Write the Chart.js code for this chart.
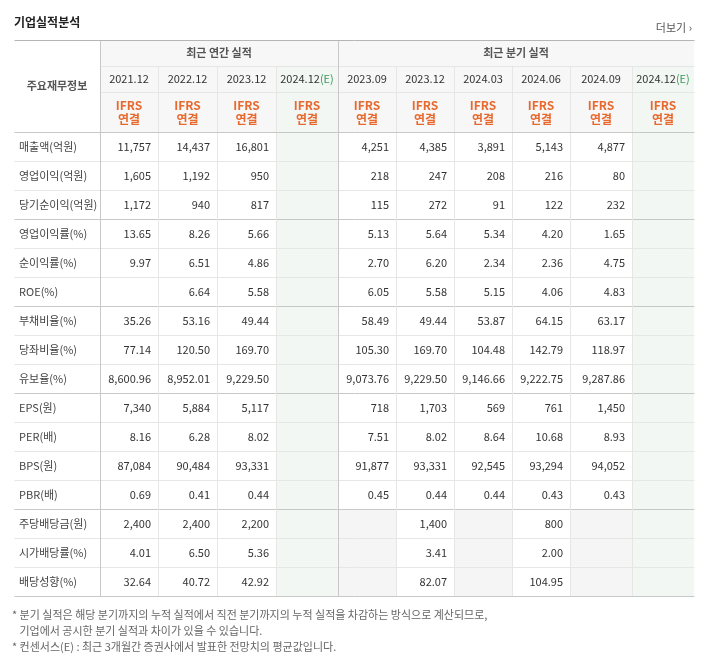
<!DOCTYPE html>
<html><head><meta charset="utf-8">
<script src="https://cdn.jsdelivr.net/npm/chart.js@4"></script>
<style>body{margin:0;background:#fff}#c{display:block}</style>
</head><body>
<canvas id="c" width="706" height="660"></canvas>
<script>
// table data
const periods = ['2021.12','2022.12','2023.12','2024.12(E)','2023.09','2023.12','2024.03','2024.06','2024.09','2024.12(E)'];
const rowLabels = ['매출액(억원)','영업이익(억원)','당기순이익(억원)','영업이익률(%)','순이익률(%)','ROE(%)','부채비율(%)','당좌비율(%)','유보율(%)','EPS(원)','PER(배)','BPS(원)','PBR(배)','주당배당금(원)','시가배당률(%)','배당성향(%)'];
const decimals = [0,0,0,2,2,2,2,2,2,0,2,0,2,0,2,2];
const values = [
  [11757,14437,16801,null,4251,4385,3891,5143,4877,null],
  [1605,1192,950,null,218,247,208,216,80,null],
  [1172,940,817,null,115,272,91,122,232,null],
  [13.65,8.26,5.66,null,5.13,5.64,5.34,4.20,1.65,null],
  [9.97,6.51,4.86,null,2.70,6.20,2.34,2.36,4.75,null],
  [null,6.64,5.58,null,6.05,5.58,5.15,4.06,4.83,null],
  [35.26,53.16,49.44,null,58.49,49.44,53.87,64.15,63.17,null],
  [77.14,120.50,169.70,null,105.30,169.70,104.48,142.79,118.97,null],
  [8600.96,8952.01,9229.50,null,9073.76,9229.50,9146.66,9222.75,9287.86,null],
  [7340,5884,5117,null,718,1703,569,761,1450,null],
  [8.16,6.28,8.02,null,7.51,8.02,8.64,10.68,8.93,null],
  [87084,90484,93331,null,91877,93331,92545,93294,94052,null],
  [0.69,0.41,0.44,null,0.45,0.44,0.44,0.43,0.43,null],
  [2400,2400,2200,null,null,1400,null,800,null,null],
  [4.01,6.50,5.36,null,null,3.41,null,2.00,null,null],
  [32.64,40.72,42.92,null,null,82.07,null,104.95,null,null]
];
const groupEnds = [2,5,8,12];
const notes = ['* 분기 실적은 해당 분기까지의 누적 실적에서 직전 분기까지의 누적 실적을 차감하는 방식으로 계산되므로,',
  '   기업에서 공시한 분기 실적과 차이가 있을 수 있습니다.',
  '* 컨센서스(E) : 최근 3개월간 증권사에서 발표한 전망치의 평균값입니다.'];

// layout
const colEdges = [14,100,158,217,276,338,396,454,512,570,632,694];
const headTop = 40, h1 = 66, h2 = 92, bodyTop = 132, rowH = 29;
const FONT = '"Noto Sans CJK KR", "Noto Sans", sans-serif';

const tablePlugin = {
  id: 'table',
  afterDraw(chart) {
    const ctx = chart.ctx, X = chart.scales.x, Y = chart.scales.y;
    const px = v => X.getPixelForValue(v), py = v => Y.getPixelForValue(v);
    const R = px(colEdges[colEdges.length - 1]);
    const bottom = bodyTop + rowH * rowLabels.length;
    const line = (x1, y1, x2, y2, c) => {
      ctx.strokeStyle = c; ctx.lineWidth = 1; ctx.beginPath();
      ctx.moveTo(Math.round(px(x1)) + 0.5, Math.round(py(y1)) + 0.5);
      ctx.lineTo(Math.round(px(x2)) + 0.5, Math.round(py(y2)) + 0.5); ctx.stroke();
    };
    const text = (s, x, y, align, color, font) => {
      ctx.fillStyle = color; ctx.font = font; ctx.textAlign = align; ctx.textBaseline = 'middle';
      ctx.fillText(s, px(x), py(y));
    };
    ctx.save();
    // title
    text('기업실적분석', 14, 22, 'left', '#222', 'bold 12px ' + FONT);
    text('더보기 ›', 692, 28, 'right', '#555', '11px ' + FONT);
    // header bg
    ctx.fillStyle = '#f7f7f7';
    ctx.fillRect(px(colEdges[1]), py(headTop), R - px(colEdges[1]), py(bodyTop) - py(headTop));
    // fills for E columns and empty dividend cells
    periods.forEach((p, j) => {
      const x1 = px(colEdges[j + 1]), x2 = px(colEdges[j + 2]);
      if (p.includes('(E)')) {
        ctx.fillStyle = '#f2f7f3';
        ctx.fillRect(x1, py(h1), x2 - x1, py(bottom) - py(h1));
      } else if (j >= 4) {
        for (let i = 13; i < rowLabels.length; i++) {
          if (values[i][j] === null) {
            ctx.fillStyle = '#f5f5f5';
            ctx.fillRect(x1, py(bodyTop + rowH * i), x2 - x1, py(rowH) - py(0));
          }
        }
      }
    });
    // horizontal lines
    line(colEdges[1], h1, 694, h1, '#e6e6e6');
    line(colEdges[1], h2, 694, h2, '#e6e6e6');
    for (let i = 1; i < rowLabels.length; i++) {
      const y = bodyTop + rowH * i;
      line(14, y, 694, y, groupEnds.includes(i - 1) ? '#c8c8c8' : '#e6e6e6');
    }
    // vertical lines
    colEdges.slice(2, -1).forEach(x => {
      if (x !== 338) line(x, h1, x, bottom, '#e6e6e6');
    });
    line(100, headTop, 100, bottom, '#c8c8c8');
    line(338, headTop, 338, bottom, '#c8c8c8');
    line(14, bodyTop, 694, bodyTop, '#c8c8c8');
    line(14, headTop, 694, headTop, '#b5b5b5');
    line(14, bottom, 694, bottom, '#c8c8c8');
    // header text
    text('주요재무정보', 57, 86, 'center', '#555', 'bold 11px ' + FONT);
    text('최근 연간 실적', 219, 53, 'center', '#555', 'bold 11px ' + FONT);
    text('최근 분기 실적', 516, 53, 'center', '#555', 'bold 11px ' + FONT);
    periods.forEach((p, j) => {
      const cx = (colEdges[j + 1] + colEdges[j + 2]) / 2;
      ctx.font = '11px ' + FONT; ctx.textBaseline = 'middle';
      if (p.includes('(E)')) {
        const a = p.replace('(E)', ''), b = '(E)';
        const wa = ctx.measureText(a).width, wb = ctx.measureText(b).width;
        const start = px(cx) - (wa + wb) / 2;
        ctx.textAlign = 'left';
        ctx.fillStyle = '#333'; ctx.fillText(a, start, py(79));
        ctx.fillStyle = '#3a9a5a'; ctx.fillText(b, start + wa, py(79));
      } else {
        text(p, cx, 79, 'center', '#333', '11px ' + FONT);
      }
      text('IFRS', cx, 105, 'center', '#e8692e', 'bold 12px ' + FONT);
      text('연결', cx, 119, 'center', '#e8692e', 'bold 12px ' + FONT);
    });
    // body
    rowLabels.forEach((lab, i) => {
      const cy = bodyTop + rowH * i + rowH / 2;
      text(lab, 19, cy, 'left', '#444', '11px ' + FONT);
      values[i].forEach((v, j) => {
        if (v === null) return;
        const s = v.toLocaleString('en-US', { minimumFractionDigits: decimals[i], maximumFractionDigits: decimals[i] });
        text(s, colEdges[j + 2] - 7, cy, 'right', '#333', '11px ' + FONT);
      });
    });
    // notes
    notes.forEach((n, k) => text(n, 12, 615 + 16 * k, 'left', '#666', '11px ' + FONT));
    ctx.restore();
  }
};

new Chart(document.getElementById('c'), {
  type: 'scatter',
  data: { datasets: [{ data: [] }] },
  options: {
    responsive: false, animation: false,
    layout: { padding: 0 },
    plugins: { legend: { display: false }, tooltip: { enabled: false } },
    scales: {
      x: { type: 'linear', min: 0, max: 706, display: false },
      y: { type: 'linear', min: 0, max: 660, reverse: true, display: false }
    }
  },
  plugins: [tablePlugin]
});
</script>
</body></html>
